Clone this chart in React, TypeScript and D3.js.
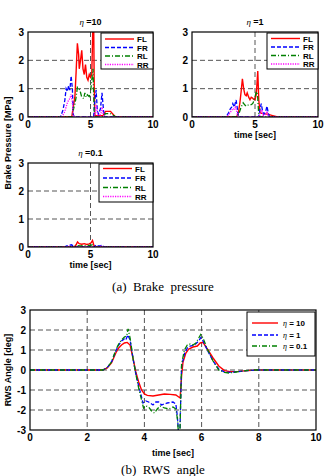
import React from "react";
import * as d3 from "d3";

// ---------- Brake pressure data (time [sec], pressure [MPa]) ----------
const eta10FL_t = [0, 3.5, 3.6, 3.75, 3.85, 3.95, 4.05, 4.1, 4.2, 4.3, 4.4, 4.5, 4.6, 4.7, 4.8, 4.9, 5.0, 5.1, 5.2, 5.25, 5.3, 5.35, 6.0, 6.2, 6.6, 6.8, 7.0, 10];
const eta10FL_v = [0, 0, 0.3, 0.7, 1.6, 2.6, 2.2, 1.7, 2.0, 2.35, 1.7, 1.5, 1.85, 1.4, 1.3, 1.5, 1.4, 1.5, 3.4, 3.5, 1.0, 0.05, 0.05, 0.2, 0.2, 0.1, 0, 0];
const eta10FR_t = [0, 2.6, 2.8, 2.95, 3.05, 3.15, 3.25, 3.35, 3.45, 3.55, 3.62, 3.7, 5.25, 5.35, 5.45, 5.55, 5.65, 5.8, 5.92, 6.05, 6.15, 10];
const eta10FR_v = [0, 0, 0.25, 0.6, 1.0, 0.9, 1.1, 0.95, 1.45, 1.0, 0.1, 0, 0, 0.6, 0.95, 0.2, 0.1, 0.3, 0.85, 0.2, 0, 0];
const eta10RL_t = [0, 3.55, 3.65, 3.75, 3.85, 3.95, 4.05, 4.15, 4.3, 4.45, 4.55, 4.65, 4.75, 4.9, 5.0, 5.1, 5.2, 5.27, 5.33, 6.0, 6.2, 6.6, 6.9, 7.0, 10];
const eta10RL_v = [0, 0, 0.3, 0.45, 0.7, 1.05, 1.0, 0.95, 0.7, 0.65, 0.85, 0.7, 0.78, 0.72, 0.85, 1.3, 1.7, 0.5, 0, 0, 0.12, 0.12, 0.04, 0, 0];
const eta10RR_t = [0, 2.7, 2.9, 3.05, 3.15, 3.25, 3.35, 3.45, 3.55, 3.62, 3.7, 5.3, 5.4, 5.47, 5.55, 5.7, 5.85, 5.92, 6.02, 6.1, 10];
const eta10RR_v = [0, 0, 0.15, 0.35, 0.5, 0.6, 0.65, 0.8, 0.5, 0.05, 0, 0, 0.3, 0.45, 0.1, 0, 0.15, 0.35, 0.1, 0, 0];

const eta1FL_t = [0, 3.55, 3.7, 3.8, 3.9, 4.0, 4.1, 4.2, 4.3, 4.38, 4.5, 4.6, 4.7, 4.8, 4.9, 5.0, 5.1, 5.16, 5.22, 5.3, 5.4, 5.6, 6.0, 6.4, 6.8, 10];
const eta1FL_v = [0, 0, 0.2, 0.5, 0.9, 1.35, 1.0, 0.79, 0.75, 0.85, 0.7, 0.61, 0.7, 0.67, 0.62, 0.61, 0.8, 1.2, 1.62, 0.6, 0.15, 0.12, 0.1, 0.05, 0, 0];
const eta1FR_t = [0, 2.7, 2.9, 3.05, 3.15, 3.24, 3.35, 3.5, 3.6, 3.68, 5.3, 5.4, 5.5, 5.6, 5.7, 5.85, 5.95, 6.05, 6.15, 10];
const eta1FR_v = [0, 0, 0.15, 0.3, 0.35, 0.47, 0.35, 0.6, 0.3, 0, 0, 0.3, 0.47, 0.2, 0.1, 0.2, 0.38, 0.15, 0, 0];
const eta1RL_t = [0, 3.6, 3.75, 3.9, 4.06, 4.2, 4.3, 4.45, 4.6, 4.75, 4.85, 5.0, 5.1, 5.2, 5.28, 5.35, 10];
const eta1RL_v = [0, 0, 0.15, 0.35, 0.5, 0.42, 0.38, 0.42, 0.41, 0.45, 0.5, 0.7, 0.9, 0.8, 0.2, 0, 0];
const eta1RR_t = [0, 2.75, 2.95, 3.1, 3.25, 3.35, 3.45, 3.55, 3.65, 5.35, 5.45, 5.55, 5.65, 5.85, 5.95, 6.05, 10];
const eta1RR_v = [0, 0, 0.1, 0.2, 0.3, 0.28, 0.35, 0.2, 0, 0, 0.18, 0.25, 0.05, 0.1, 0.2, 0, 0];

const eta01FL_t = [0, 3.7, 3.85, 3.96, 4.1, 4.3, 4.5, 4.7, 4.9, 5.05, 5.16, 5.28, 5.4, 10];
const eta01FL_v = [0, 0, 0.08, 0.18, 0.12, 0.1, 0.12, 0.09, 0.11, 0.15, 0.23, 0.05, 0, 0];
const eta01FR_t = [0, 2.9, 3.1, 3.3, 3.5, 3.65, 5.3, 5.45, 5.6, 5.8, 5.95, 6.1, 10];
const eta01FR_v = [0, 0, 0.04, 0.06, 0.08, 0, 0, 0.07, 0.04, 0.05, 0.06, 0, 0];
const eta01RL_t = [0, 3.7, 3.9, 4.2, 4.6, 5.0, 5.15, 5.3, 10];
const eta01RL_v = [0, 0, 0.05, 0.04, 0.05, 0.06, 0.08, 0, 0];
const eta01RR_t = [0, 3.0, 3.3, 3.6, 5.4, 5.9, 6.1, 10];
const eta01RR_v = [0, 0, 0.03, 0, 0, 0.03, 0, 0];

const wheelNames = ["FL", "FR", "RL", "RR"];
const brakeTicksX = [0, 5, 10];
const brakeTicksY = [0, 1, 2, 3];

// ---------- RWS angle data (time [sec], angle [deg]) ----------
const rws10_t = [0, 2.55, 2.7, 2.85, 3.0, 3.1, 3.2, 3.3, 3.4, 3.5, 3.6, 3.7, 3.8, 3.9, 4.0, 4.1, 4.3, 4.5, 4.7, 4.9, 5.1, 5.2, 5.25, 5.3, 5.35, 5.45, 5.55, 5.7, 5.85, 5.95, 6.05, 6.2, 6.4, 6.6, 6.8, 7.0, 7.3, 7.6, 7.9, 10];
const rws10_v = [0, 0, 0.1, 0.35, 0.85, 1.1, 1.25, 1.35, 1.38, 1.25, 0.6, -0.1, -0.6, -1.0, -1.2, -1.27, -1.3, -1.25, -1.2, -1.22, -1.25, -1.35, -1.4, -0.3, 0.4, 0.85, 1.05, 1.15, 1.2, 1.35, 1.38, 1.05, 0.6, 0.2, -0.03, -0.08, -0.07, -0.03, 0, 0];
const rws1_t = [0, 2.55, 2.7, 2.85, 3.0, 3.1, 3.2, 3.3, 3.35, 3.42, 3.5, 3.6, 3.7, 3.8, 3.9, 3.95, 4.05, 4.15, 4.3, 4.4, 4.5, 4.6, 4.8, 5.0, 5.1, 5.15, 5.2, 5.24, 5.3, 5.4, 5.5, 5.6, 5.75, 5.9, 5.97, 6.05, 6.2, 6.4, 6.6, 6.8, 7.0, 7.3, 7.6, 7.9, 10];
const rws1_v = [0, 0, 0.12, 0.4, 0.95, 1.25, 1.45, 1.55, 1.5, 1.75, 1.5, 0.6, -0.2, -0.8, -1.35, -1.65, -1.55, -1.6, -1.75, -1.6, -1.6, -1.75, -1.65, -1.6, -1.7, -2.3, -3.2, -3.2, 0.2, 0.8, 1.1, 1.2, 1.25, 1.45, 1.62, 1.45, 1.0, 0.45, 0.05, -0.1, -0.12, -0.08, -0.03, 0, 0];
const rws01_t = [0, 2.55, 2.7, 2.85, 3.0, 3.1, 3.2, 3.3, 3.38, 3.43, 3.5, 3.6, 3.7, 3.8, 3.9, 3.97, 4.05, 4.15, 4.25, 4.35, 4.45, 4.55, 4.7, 4.85, 5.0, 5.1, 5.15, 5.2, 5.24, 5.3, 5.4, 5.5, 5.6, 5.7, 5.8, 5.9, 5.97, 6.05, 6.2, 6.4, 6.6, 6.8, 6.95, 7.2, 7.5, 7.8, 10];
const rws01_v = [0, 0, 0.12, 0.4, 1.0, 1.3, 1.5, 1.65, 1.7, 2.05, 1.6, 0.6, -0.2, -0.9, -1.5, -1.9, -1.8, -1.85, -2.05, -2.15, -1.95, -1.8, -1.9, -1.95, -1.85, -1.95, -2.4, -3.3, -3.3, 0.3, 1.0, 1.25, 1.3, 1.25, 1.35, 1.6, 1.78, 1.6, 1.05, 0.45, 0.0, -0.12, -0.15, -0.1, -0.04, 0, 0];

const rwsNames = ["10", "1", "0.1"];
const rwsTicksX = [0, 2, 4, 6, 8, 10];
const rwsTicksY = [-3, -2, -1, 0, 1, 2, 3];

// ---------- styles ----------
const seriesStyles = [
  { color: "#ff0000", dash: "none", width: 1.4 },
  { color: "#0000ff", dash: "4,2", width: 1.3 },
  { color: "#008000", dash: "5,2,1,2", width: 1.3 },
  { color: "#ff00ff", dash: "1.2,1.2", width: 1.3 },
];
const FONT = "Liberation Sans, Arial, Helvetica, sans-serif";
const SERIF = "Liberation Serif, Times New Roman, serif";
const GRID = "#555";

type Series = { t: number[]; v: number[] };

function zip(s: Series): [number, number][] {
  return s.t.map((t, i) => [t, s.v[i]]);
}

interface BrakeProps {
  id: string;
  x0: number; x1: number; y0: number; y1: number;
  eta: string;
  series: Series[];
  showXLabel: boolean;
  legend: { x0: number; y0: number; y1: number; rows: number[] };
}

function BrakePanel(p: BrakeProps) {
  const x = d3.scaleLinear().domain([0, 10]).range([p.x0, p.x1]);
  const y = d3.scaleLinear().domain([0, 3]).range([p.y1, p.y0]);
  const line = d3.line<[number, number]>().x((d) => x(d[0])).y((d) => y(d[1]));
  const cx = (p.x0 + p.x1) / 2;
  return (
    <g>
      <defs>
        <clipPath id={p.id}>
          <rect x={p.x0} y={p.y0} width={p.x1 - p.x0} height={p.y1 - p.y0} />
        </clipPath>
      </defs>
      {/* dashed grid: horizontal at 1, 2 and vertical at 5 sec */}
      {[1, 2].map((v) => (
        <line key={"h" + v} x1={p.x0} x2={p.x1} y1={y(v)} y2={y(v)} stroke={GRID} strokeDasharray="5,3" strokeWidth={1} />
      ))}
      <line x1={x(5)} x2={x(5)} y1={p.y0} y2={p.y1} stroke={GRID} strokeDasharray="5,3" strokeWidth={1} />
      <g clipPath={`url(#${p.id})`}>
        {p.series.map((s, i) => (
          <path key={i} d={line(zip(s)) || ""} fill="none" stroke={seriesStyles[i].color}
            strokeDasharray={seriesStyles[i].dash} strokeWidth={seriesStyles[i].width} />
        ))}
      </g>
      <rect x={p.x0} y={p.y0} width={p.x1 - p.x0} height={p.y1 - p.y0} fill="none" stroke="#000" strokeWidth={1.2} />
      {brakeTicksY.map((v) => (
        <text key={"yt" + v} x={p.x0 - 4} y={y(v) + 3.5} textAnchor="end" fontFamily={FONT} fontWeight="bold" fontSize={10}>{v}</text>
      ))}
      {brakeTicksX.map((v) => (
        <text key={"xt" + v} x={x(v)} y={p.y1 + 11} textAnchor="middle" fontFamily={FONT} fontWeight="bold" fontSize={10}>{v}</text>
      ))}
      <text x={cx} y={p.y0 - 7} textAnchor="middle" fontFamily={FONT} fontWeight="bold" fontSize={9}>
        <tspan fontFamily={SERIF} fontStyle="italic" fontWeight="normal">η</tspan>
        <tspan> ={p.eta}</tspan>
      </text>
      {p.showXLabel && (
        <text x={cx} y={p.y1 + 21} textAnchor="middle" fontFamily={FONT} fontWeight="bold" fontSize={9}>time [sec]</text>
      )}
      {/* legend */}
      <rect x={p.legend.x0} y={p.legend.y0} width={p.x1 - p.legend.x0} height={p.legend.y1 - p.legend.y0} fill="#fff" stroke="#000" strokeWidth={1} />
      {wheelNames.map((n, i) => (
        <g key={n}>
          <line x1={p.legend.x0 + 4} x2={p.legend.x0 + 33} y1={p.legend.rows[i]} y2={p.legend.rows[i]}
            stroke={seriesStyles[i].color} strokeDasharray={seriesStyles[i].dash} strokeWidth={seriesStyles[i].width} />
          <text x={p.legend.x0 + 36} y={p.legend.rows[i] + 3} fontFamily={FONT} fontWeight="bold" fontSize={8}>{n}</text>
        </g>
      ))}
    </g>
  );
}

function RwsPanel() {
  const x0 = 30, x1 = 316, y0 = 310, y1 = 430;
  const x = d3.scaleLinear().domain([0, 10]).range([x0, x1]);
  const y = d3.scaleLinear().domain([-3, 3]).range([y1, y0]);
  const line = d3.line<[number, number]>().x((d) => x(d[0])).y((d) => y(d[1]));
  const data: Series[] = [
    { t: rws10_t, v: rws10_v },
    { t: rws1_t, v: rws1_v },
    { t: rws01_t, v: rws01_v },
  ];
  const lg = { x0: 247, y0: 312, y1: 356, rows: [323, 335, 346] };
  return (
    <g>
      <defs>
        <clipPath id="rwsclip">
          <rect x={x0} y={y0} width={x1 - x0} height={y1 - y0} />
        </clipPath>
      </defs>
      {rwsTicksX.slice(1, -1).map((v) => (
        <line key={"gx" + v} x1={x(v)} x2={x(v)} y1={y0} y2={y1} stroke={GRID} strokeDasharray="5,3" strokeWidth={1} />
      ))}
      {rwsTicksY.slice(1, -1).map((v) => (
        <line key={"gy" + v} x1={x0} x2={x1} y1={y(v)} y2={y(v)} stroke={GRID} strokeDasharray="5,3" strokeWidth={1} />
      ))}
      <g clipPath="url(#rwsclip)">
        {data.map((s, i) => (
          <path key={i} d={line(zip(s)) || ""} fill="none" stroke={seriesStyles[i].color}
            strokeDasharray={seriesStyles[i].dash} strokeWidth={seriesStyles[i].width} />
        ))}
      </g>
      <rect x={x0} y={y0} width={x1 - x0} height={y1 - y0} fill="none" stroke="#000" strokeWidth={1.2} />
      {rwsTicksY.map((v) => (
        <text key={"yt" + v} x={x0 - 4} y={y(v) + 3.5} textAnchor="end" fontFamily={FONT} fontWeight="bold" fontSize={10}>{v}</text>
      ))}
      {rwsTicksX.map((v) => (
        <text key={"xt" + v} x={x(v)} y={y1 + 11} textAnchor="middle" fontFamily={FONT} fontWeight="bold" fontSize={10}>{v}</text>
      ))}
      <text x={(x0 + x1) / 2} y={y1 + 26} textAnchor="middle" fontFamily={FONT} fontWeight="bold" fontSize={9}>time [sec]</text>
      <text transform={`translate(11,${(y0 + y1) / 2}) rotate(-90)`} textAnchor="middle" fontFamily={FONT} fontWeight="bold" fontSize={9}>RWS Angle [deg]</text>
      <rect x={lg.x0} y={lg.y0} width={x1 - 1 - lg.x0} height={lg.y1 - lg.y0} fill="#fff" stroke="#000" strokeWidth={1} />
      {rwsNames.map((n, i) => (
        <g key={n}>
          <line x1={lg.x0 + 5} x2={lg.x0 + 31} y1={lg.rows[i]} y2={lg.rows[i]}
            stroke={seriesStyles[i].color} strokeDasharray={seriesStyles[i].dash} strokeWidth={seriesStyles[i].width} />
          <text x={lg.x0 + 36} y={lg.rows[i] + 3} fontFamily={FONT} fontWeight="bold" fontSize={8}>
            <tspan fontFamily={SERIF} fontStyle="italic" fontWeight="normal">η</tspan>
            <tspan> = {n}</tspan>
          </text>
        </g>
      ))}
    </g>
  );
}

export default function App() {
  const eta10: Series[] = [
    { t: eta10FL_t, v: eta10FL_v }, { t: eta10FR_t, v: eta10FR_v },
    { t: eta10RL_t, v: eta10RL_v }, { t: eta10RR_t, v: eta10RR_v },
  ];
  const eta1: Series[] = [
    { t: eta1FL_t, v: eta1FL_v }, { t: eta1FR_t, v: eta1FR_v },
    { t: eta1RL_t, v: eta1RL_v }, { t: eta1RR_t, v: eta1RR_v },
  ];
  const eta01: Series[] = [
    { t: eta01FL_t, v: eta01FL_v }, { t: eta01FR_t, v: eta01FR_v },
    { t: eta01RL_t, v: eta01RL_v }, { t: eta01RR_t, v: eta01RR_v },
  ];
  return (
    <svg width={326} height={476} style={{ position: "absolute", left: 0, top: 0, background: "#fff" }}>
      <rect width={326} height={476} fill="#fff" />
      <BrakePanel id="c10" x0={28} x1={153} y0={32} y1={117} eta="10" series={eta10} showXLabel={false}
        legend={{ x0: 101, y0: 33, y1: 69, rows: [39, 47.5, 56, 64.5] }} />
      <BrakePanel id="c1" x0={192} x1={318} y0={32} y1={117} eta="1" series={eta1} showXLabel={true}
        legend={{ x0: 267, y0: 33, y1: 69, rows: [38.5, 47, 55.5, 64] }} />
      <BrakePanel id="c01" x0={28} x1={153} y0={163} y1={247} eta="0.1" series={eta01} showXLabel={true}
        legend={{ x0: 99, y0: 164, y1: 202, rows: [168.5, 178, 187.5, 196.5] }} />
      <text transform="translate(11,143) rotate(-90)" textAnchor="middle" fontFamily={FONT} fontWeight="bold" fontSize={9}>Brake Pressure [MPa]</text>
      <text x={163} y={291} textAnchor="middle" fontFamily={SERIF} fontSize={13} style={{ whiteSpace: "pre" }}>{"(a)  Brake  pressure"}</text>
      <RwsPanel />
      <text x={163} y={474} textAnchor="middle" fontFamily={SERIF} fontSize={13} style={{ whiteSpace: "pre" }}>{"(b)  RWS  angle"}</text>
    </svg>
  );
}
